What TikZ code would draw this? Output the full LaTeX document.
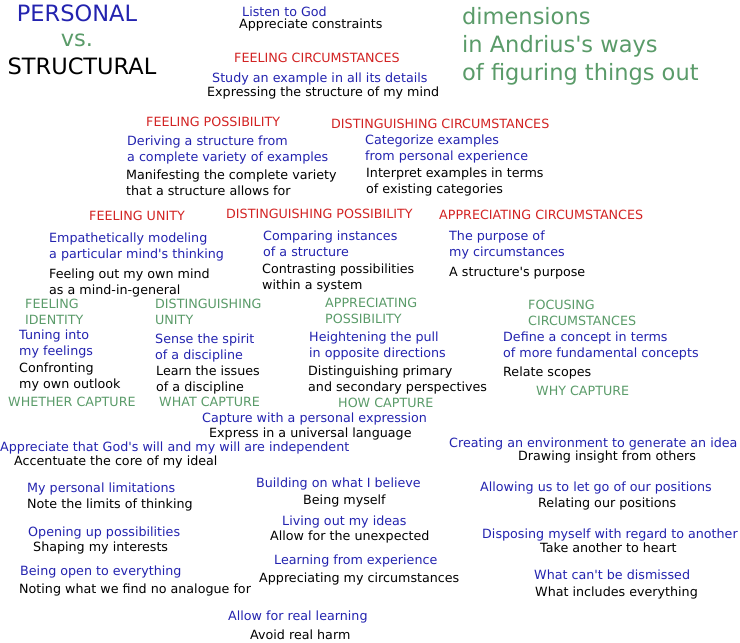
\documentclass[tikz,border=0pt]{standalone}
\usepackage{fontspec}
\setmainfont{DejaVu Sans}
\definecolor{askblue}{RGB}{35,35,175}
\definecolor{wayred}{RGB}{210,35,35}
\definecolor{dimgreen}{RGB}{90,155,105}
\newcommand{\q}{\textquotesingle}

\begin{document}
\begin{tikzpicture}[x=1pt,y=-1pt,
    every node/.style={inner sep=0pt,anchor=north west,align=left,yshift=-2pt,font=\fontsize{12.7}{16}\selectfont},
    ask/.style={text=askblue},
    act/.style={text=black},
    way/.style={text=wayred},
    dim/.style={text=dimgreen},
    big/.style={yshift=2pt,font=\fontsize{22.5}{28}\selectfont}]
        \useasboundingbox (0,0) rectangle (740,643);
        \node[big,ask,anchor=center] (personal) at (77,13) {PERSONAL};
        \node[big,dim,anchor=base] (vs) at (77,46) {vs.};
        \node[big,act,anchor=center] (structural) at (82,66) {STRUCTURAL};
        \node[big,dim] (dimensions) at (462,7) {dimensions\\in Andrius\q s ways\\of figuring things out};
        \node[ask] (god) at (242,5) {Listen to God};
        \node[act] (constraints) at (239,17) {Appreciate constraints};
        \node[way] (feelcirc) at (234,51) {FEELING CIRCUMSTANCES};
        \node[ask] (study) at (212,71) {Study an example in all its details};
        \node[act] (expressing) at (207,85) {Expressing the structure of my mind};
        \node[way] (feelposs) at (146,115) {FEELING POSSIBILITY};
        \node[ask] (deriving) at (127,134) {Deriving a structure from\\a complete variety of examples};
        \node[act] (manifesting) at (126,168) {Manifesting the complete variety\\that a structure allows for};
        \node[way] (distcirc) at (331,117) {DISTINGUISHING CIRCUMSTANCES};
        \node[ask] (categorize) at (365,133) {Categorize examples\\from personal experience};
        \node[act] (interpret) at (366,166) {Interpret examples in terms\\of existing categories};
        \node[way] (feelunity) at (89,209) {FEELING UNITY};
        \node[way] (distposs) at (226,207) {DISTINGUISHING POSSIBILITY};
        \node[way] (apprcirc) at (439,208) {APPRECIATING CIRCUMSTANCES};
        \node[ask] (empathetic) at (49,231) {Empathetically modeling\\a particular mind\q s thinking};
        \node[act] (feelingout) at (49,267) {Feeling out my own mind\\as a mind-in-general};
        \node[ask] (comparing) at (263,229) {Comparing instances\\of a structure};
        \node[act] (contrasting) at (262,262) {Contrasting possibilities\\within a system};
        \node[ask] (purposeof) at (449,229) {The purpose of\\my circumstances};
        \node[act] (purpose) at (449,265) {A structure\q s purpose};
        \node[dim] (feelid) at (25,297) {FEELING\\IDENTITY};
        \node[dim] (distunity) at (155,297) {DISTINGUISHING\\UNITY};
        \node[dim] (apprposs) at (325,296) {APPRECIATING\\POSSIBILITY};
        \node[dim] (focuscirc) at (528,298) {FOCUSING\\CIRCUMSTANCES};
        \node[ask] (tuning) at (19,328) {Tuning into\\my feelings};
        \node[act] (confronting) at (19,361) {Confronting\\my own outlook};
        \node[ask] (spirit) at (155,332) {Sense the spirit\\of a discipline};
        \node[act] (issues) at (156,364) {Learn the issues\\of a discipline};
        \node[ask] (heightening) at (309,330) {Heightening the pull\\in opposite directions};
        \node[act] (primary) at (308,364) {Distinguishing primary\\and secondary perspectives};
        \node[ask] (define) at (503,330) {Define a concept in terms\\of more fundamental concepts};
        \node[act] (scopes) at (503,365) {Relate scopes};
        \node[dim] (whether) at (8,395) {WHETHER CAPTURE};
        \node[dim] (what) at (159,395) {WHAT CAPTURE};
        \node[dim] (how) at (338,396) {HOW CAPTURE};
        \node[dim] (why) at (536,384) {WHY CAPTURE};
        \node[ask] (capture) at (202,411) {Capture with a personal expression};
        \node[act] (universal) at (209,426) {Express in a universal language};
        \node[ask] (independent) at (0,440) {Appreciate that God\q s will and my will are independent};
        \node[act] (accentuate) at (14,454) {Accentuate the core of my ideal};
        \node[ask] (environment) at (449,436) {Creating an environment to generate an idea};
        \node[act] (insight) at (518,449) {Drawing insight from others};
        \node[ask] (limitations) at (27,481) {My personal limitations};
        \node[act] (limits) at (27,497) {Note the limits of thinking};
        \node[ask] (building) at (256,476) {Building on what I believe};
        \node[act] (myself) at (303,493) {Being myself};
        \node[ask] (letgo) at (480,480) {Allowing us to let go of our positions};
        \node[act] (relating) at (538,496) {Relating our positions};
        \node[ask] (livingout) at (282,514) {Living out my ideas};
        \node[act] (unexpected) at (270,529) {Allow for the unexpected};
        \node[ask] (opening) at (28,525) {Opening up possibilities};
        \node[act] (shaping) at (33,540) {Shaping my interests};
        \node[ask] (disposing) at (482,527) {Disposing myself with regard to another};
        \node[act] (heart) at (540,541) {Take another to heart};
        \node[ask] (learning) at (274,553) {Learning from experience};
        \node[act] (circumstances) at (259,571) {Appreciating my circumstances};
        \node[ask] (openall) at (20,564) {Being open to everything};
        \node[act] (analogue) at (19,582) {Noting what we find no analogue for};
        \node[ask] (dismissed) at (534,568) {What can\q t be dismissed};
        \node[act] (everything) at (535,585) {What includes everything};
        \node[ask] (reallearning) at (228,609) {Allow for real learning};
        \node[act] (harm) at (250,628) {Avoid real harm};
\end{tikzpicture}
\end{document}
